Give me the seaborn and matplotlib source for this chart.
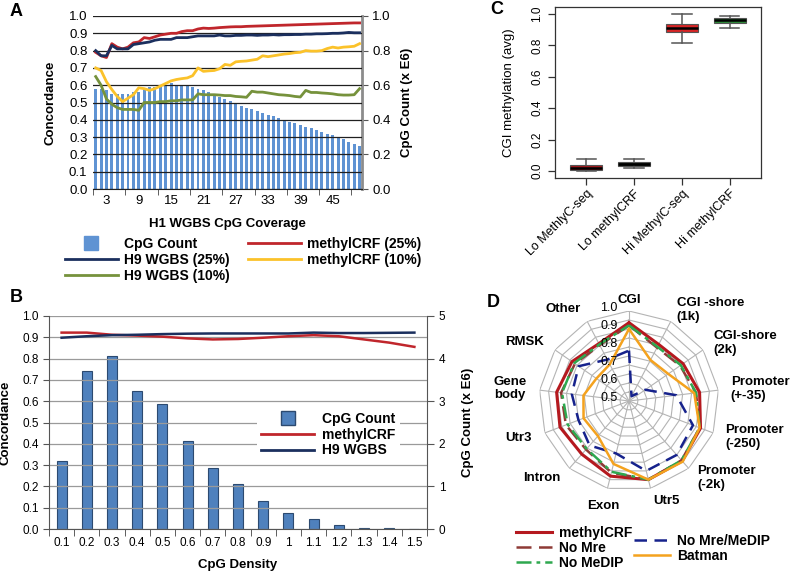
import numpy as np
import pandas as pd
import matplotlib
matplotlib.use("Agg")
import matplotlib.pyplot as plt
import seaborn as sns
from matplotlib.lines import Line2D

plt.rcParams['font.family'] = ['Liberation Sans', 'DejaVu Sans']

W, H = 792, 572


def rect(l, t, r, b):
    # pixel box -> figure fraction
    return [l / W, 1 - b / H, (r - l) / W, (b - t) / H]


# ---------------- panel A : concordance vs coverage
coverage = list(range(1, 51))
cpg_count_a = [0.58, 0.58, 0.57, 0.55, 0.55, 0.55, 0.55, 0.56, 0.56, 0.58,
               0.59, 0.59, 0.60, 0.60, 0.61, 0.60, 0.60, 0.60, 0.59, 0.58,
               0.57, 0.56, 0.55, 0.53, 0.52, 0.51, 0.50, 0.48, 0.47, 0.46,
               0.45, 0.44, 0.43, 0.42, 0.41, 0.40, 0.39, 0.38, 0.37, 0.36,
               0.35, 0.34, 0.33, 0.32, 0.31, 0.30, 0.29, 0.27, 0.26, 0.25]
mcrf_25 = [0.79, 0.77, 0.76, 0.84, 0.82, 0.81, 0.82, 0.845, 0.85, 0.875,
           0.87, 0.88, 0.89, 0.895, 0.90, 0.90, 0.91, 0.915, 0.915, 0.925,
           0.93, 0.928, 0.93, 0.933, 0.935, 0.937, 0.938, 0.938, 0.94, 0.941,
           0.942, 0.943, 0.944, 0.945, 0.946, 0.947, 0.948, 0.949, 0.95, 0.951,
           0.952, 0.953, 0.954, 0.955, 0.956, 0.957, 0.958, 0.959, 0.96, 0.96]
h9_25 = [0.80, 0.77, 0.77, 0.83, 0.81, 0.81, 0.81, 0.835, 0.84, 0.845,
         0.85, 0.86, 0.865, 0.865, 0.865, 0.875, 0.875, 0.875, 0.88, 0.885,
         0.885, 0.885, 0.885, 0.89, 0.885, 0.885, 0.888, 0.888, 0.89, 0.89,
         0.888, 0.89, 0.89, 0.892, 0.89, 0.892, 0.892, 0.893, 0.893, 0.895,
         0.895, 0.897, 0.897, 0.898, 0.90, 0.90, 0.902, 0.905, 0.903, 0.903]
mcrf_10 = [0.70, 0.685, 0.62, 0.575, 0.535, 0.505, 0.525, 0.545, 0.585, 0.58,
           0.57, 0.58, 0.595, 0.61, 0.625, 0.633, 0.638, 0.642, 0.655, 0.70,
           0.68, 0.683, 0.685, 0.695, 0.72, 0.715, 0.735, 0.738, 0.74, 0.745,
           0.75, 0.77, 0.765, 0.77, 0.775, 0.78, 0.783, 0.788, 0.79, 0.80,
           0.797, 0.797, 0.80, 0.812, 0.82, 0.815, 0.82, 0.822, 0.825, 0.84]
h9_10 = [0.65, 0.60, 0.52, 0.49, 0.47, 0.46, 0.46, 0.46, 0.455, 0.50,
         0.50, 0.50, 0.505, 0.505, 0.51, 0.51, 0.515, 0.515, 0.515, 0.55,
         0.545, 0.545, 0.545, 0.543, 0.54, 0.54, 0.535, 0.533, 0.53, 0.565,
         0.56, 0.56, 0.555, 0.55, 0.545, 0.543, 0.54, 0.535, 0.532, 0.57,
         0.558, 0.558, 0.555, 0.553, 0.55, 0.545, 0.543, 0.543, 0.545, 0.58]

# ---------------- panel B : concordance vs CpG density
density = ['0.1', '0.2', '0.3', '0.4', '0.5', '0.6', '0.7', '0.8',
           '0.9', '1', '1.1', '1.2', '1.3', '1.4', '1.5']
cpg_count_b = [1.60, 3.72, 4.05, 3.24, 2.93, 2.06, 1.43, 1.06,
               0.65, 0.37, 0.24, 0.09, 0.035, 0.02, 0.01]
mcrf_b = [0.922, 0.922, 0.912, 0.908, 0.903, 0.895, 0.89, 0.892,
          0.898, 0.905, 0.91, 0.905, 0.89, 0.875, 0.855]
h9_b = [0.898, 0.905, 0.91, 0.912, 0.915, 0.917, 0.918, 0.918,
        0.918, 0.918, 0.922, 0.92, 0.92, 0.921, 0.922]

# ---------------- panel C : CGI methylation boxes (summary stats)
box_labels = ['Lo MethlyC-seq', 'Lo methylCRF', 'Hi MethylC-seq', 'Hi methylCRF']
box_whislo = [0.0, 0.02, 0.815, 0.91]
box_q1 = [0.005, 0.03, 0.883, 0.945]
box_med = [0.02, 0.044, 0.911, 0.96]
box_q3 = [0.038, 0.057, 0.936, 0.975]
box_whishi = [0.078, 0.076, 1.0, 0.985]
box_colors = ['#a3171b', '#1d2a1d', '#d62526', '#2e8b3a']

# ---------------- panel D : radar of concordance by region
regions = ['CGI', 'CGI -shore\n(1k)', 'CGI-shore\n(2k)', 'Promoter\n(+-35)',
           'Promoter\n(-250)', 'Promoter\n(-2k)', 'Utr5', 'Exon', 'Intron',
           'Utr3', 'Gene\nbody', 'RMSK', 'Other']
d_mcrf = [0.935, 0.855, 0.865, 0.895, 0.925, 0.945, 0.95, 0.93, 0.895, 0.91, 0.905, 0.885, 0.86]
d_nomre = [0.92, 0.835, 0.845, 0.875, 0.92, 0.94, 0.95, 0.91, 0.86, 0.875, 0.88, 0.865, 0.85]
d_nomedip = [0.92, 0.84, 0.85, 0.875, 0.92, 0.94, 0.95, 0.905, 0.855, 0.865, 0.875, 0.87, 0.855]
d_nomremedip = [0.78, 0.53, 0.61, 0.765, 0.88, 0.90, 0.90, 0.80, 0.83, 0.80, 0.82, 0.84, 0.76]
d_batman = [0.90, 0.757, 0.765, 0.865, 0.92, 0.95, 0.95, 0.86, 0.76, 0.77, 0.755, 0.72, 0.73]

RED = '#c0262c'
NAVY = '#1b2f5e'
YEL = '#fbc22a'
GRN = '#76923c'
BAR_A = '#5f93d3'
BAR_B = '#4f81bd'

fig = plt.figure(figsize=(W / 100, H / 100), dpi=100)
tick_fs = 8.5
lab_fs = 9.5
leg_fs = 10

# =============== A
axA = fig.add_axes(rect(93, 16, 362, 189))
axA2 = axA.twinx()
dfa = pd.DataFrame({'coverage': coverage, 'count': cpg_count_a})
sns.barplot(data=dfa, x='coverage', y='count', native_scale=True, width=0.55,
            color=BAR_A, saturation=1, errorbar=None, ax=axA2)
for y, c in [(mcrf_25, RED), (h9_25, NAVY), (mcrf_10, YEL), (h9_10, GRN)]:
    sns.lineplot(x=coverage, y=y, color=c, lw=2, ax=axA)
axA.set_zorder(axA2.get_zorder() + 1)
axA.patch.set_visible(False)
axA.set_xlim(0.55, 50.45)
axA.set_ylim(0, 1)
axA2.set_ylim(0, 1)
axA.set_yticks(np.arange(0, 1.01, 0.1))
axA.set_yticklabels([f'{v:.1f}' for v in np.arange(0, 1.01, 0.1)], fontsize=9.5)
axA.yaxis.grid(True, color='#202020', lw=0.9)
axA.set_axisbelow(True)
axA.tick_params(axis='y', length=0, pad=4)
axA.set_xticks(list(range(3, 50, 6)))
axA.set_xticklabels([str(v) for v in range(3, 50, 6)], fontsize=9.5)
axA.set_xticks(np.arange(0.5, 51, 6), minor=True)
axA.tick_params(axis='x', which='major', length=0, pad=4)
axA.tick_params(axis='x', which='minor', length=4, color='#444')
axA2.set_yticks(np.arange(0, 1.01, 0.2))
axA2.set_yticklabels([f'{v:.1f}' for v in np.arange(0, 1.01, 0.2)], fontsize=9.5)
axA2.tick_params(axis='y', length=4, color='#555')
for s in ['top', 'left', 'right']:
    axA.spines[s].set_visible(False)
for s in ['top', 'left', 'bottom']:
    axA2.spines[s].set_visible(False)
axA2.spines['right'].set_color('#8c8c8c')
axA2.spines['right'].set_linewidth(2)
axA.spines['bottom'].set_color('#202020')
axA.set_xlabel('H1 WGBS CpG Coverage', fontsize=lab_fs, fontweight='bold')
axA.xaxis.set_label_coords(0.5, -0.17)
axA.set_ylabel('Concordance', fontsize=lab_fs, fontweight='bold')
axA.yaxis.set_label_coords(-0.135, 0.5)
axA2.set_ylabel('CpG Count (x E6)', fontsize=lab_fs, fontweight='bold')
axA2.yaxis.set_label_coords(1.145, 0.5)
axA2.set_xlabel('')

hA = [Line2D([], [], marker='s', ls='none', markersize=10, color=BAR_A),
      Line2D([], [], color=NAVY, lw=2), Line2D([], [], color=GRN, lw=2),
      Line2D([], [], color=RED, lw=2), Line2D([], [], color=YEL, lw=2)]
lA = ['CpG Count', 'H9 WGBS (25%)', 'H9 WGBS (10%)', 'methylCRF (25%)', 'methylCRF (10%)']
fig.legend(hA, lA, ncol=2, loc='upper left', bbox_to_anchor=(58 / W, 1 - 230 / H),
           frameon=False, prop={'weight': 'bold', 'size': leg_fs}, handlelength=3.8,
           handletextpad=0.45, columnspacing=1.3, labelspacing=0.15, borderpad=0)

# =============== B
axB = fig.add_axes(rect(49, 316, 427, 529))
axB2 = axB.twinx()
pos_b = list(range(len(density)))
dfb = pd.DataFrame({'pos': pos_b, 'count': cpg_count_b})
sns.barplot(data=dfb, x='pos', y='count', native_scale=True, width=0.4,
            color=BAR_B, saturation=1, edgecolor='#2c4a70', linewidth=0.8,
            errorbar=None, ax=axB2)
sns.lineplot(x=pos_b, y=mcrf_b, color=RED, lw=1.8, ax=axB, label='methylCRF')
sns.lineplot(x=pos_b, y=h9_b, color=NAVY, lw=1.8, ax=axB, label='H9 WGBS')
axB.set_zorder(axB2.get_zorder() + 1)
axB.patch.set_visible(False)
axB.set_xlim(-0.5, len(density) - 0.5)
axB.set_ylim(0, 1)
axB2.set_ylim(0, 5)
axB.set_yticks(np.arange(0, 1.01, 0.1))
axB.set_yticklabels([f'{v:.1f}' for v in np.arange(0, 1.01, 0.1)], fontsize=tick_fs)
axB.yaxis.grid(True, color='#9a9a9a', lw=0.9)
axB.set_axisbelow(True)
axB.tick_params(axis='y', length=4, color='#555')
axB.set_xticks(pos_b)
axB.set_xticklabels(density, fontsize=tick_fs)
axB.set_xticks(np.arange(-0.5, len(density), 1), minor=True)
axB.tick_params(axis='x', which='major', length=0, pad=6)
axB.tick_params(axis='x', which='minor', length=5, color='#444')
axB2.set_yticks(range(0, 6))
axB2.set_yticklabels([str(v) for v in range(0, 6)], fontsize=tick_fs)
axB2.tick_params(axis='y', length=5, color='#555')
for s in ['top', 'right']:
    axB.spines[s].set_visible(False)
for s in ['top', 'left', 'bottom']:
    axB2.spines[s].set_visible(False)
for a in (axB, axB2):
    for s in a.spines.values():
        s.set_color('#555')
axB.set_xlabel('CpG Density', fontsize=lab_fs, fontweight='bold')
axB.xaxis.set_label_coords(0.5, -0.14)
axB.set_ylabel('Concordance', fontsize=lab_fs, fontweight='bold')
axB.yaxis.set_label_coords(-0.098, 0.5)
axB2.set_ylabel('CpG Count (x E6)', fontsize=lab_fs, fontweight='bold')
axB2.yaxis.set_label_coords(1.093, 0.5)
axB2.set_xlabel('')
hB = [Line2D([], [], marker='s', ls='none', markersize=10, color=BAR_B, markeredgecolor='#2c4a70'),
      Line2D([], [], color=RED, lw=2), Line2D([], [], color=NAVY, lw=2)]
axB.legend(hB, ['CpG Count', 'methylCRF', 'H9 WGBS'], loc='upper left',
           bbox_to_anchor=((257 - 49) / 378, (529 - 408) / 213), frameon=True,
           facecolor='white', edgecolor='none', framealpha=1, fancybox=False,
           prop={'weight': 'bold', 'size': leg_fs}, handlelength=3.8,
           handletextpad=0.6, labelspacing=0.12, borderpad=0.3, borderaxespad=0)

# =============== C
axC = fig.add_axes(rect(555, 7, 761, 178))
stats = []
for i in range(len(box_labels)):
    stats.append({'whislo': box_whislo[i], 'q1': box_q1[i], 'med': box_med[i],
                  'q3': box_q3[i], 'whishi': box_whishi[i], 'fliers': []})
bp = axC.bxp(stats, positions=[1, 2, 3, 4], widths=0.67, patch_artist=True,
             showfliers=False,
             boxprops={'edgecolor': '#555', 'linewidth': 0.8},
             medianprops={'color': 'black', 'linewidth': 1.8, 'solid_capstyle': 'butt'},
             whiskerprops={'color': '#555', 'linewidth': 1.1, 'linestyle': '-'},
             capprops={'color': '#555', 'linewidth': 1.1})
for patch, c in zip(bp['boxes'], box_colors):
    patch.set_facecolor(c)
for cap in bp['caps']:
    xd = cap.get_xdata()
    m = (xd[0] + xd[1]) / 2
    cap.set_xdata([m - 0.2, m + 0.2])
axC.set_xlim(0.35, 4.65)
axC.set_ylim(-0.045, 1.045)
axC.set_yticks(np.arange(0, 1.01, 0.2))
axC.set_yticklabels([f'{v:.1f}' for v in np.arange(0, 1.01, 0.2)], fontsize=tick_fs,
                    rotation=90, va='center')
axC.set_xticks([1, 2, 3, 4])
axC.set_xticklabels(box_labels, fontsize=9, rotation=45, ha='right', rotation_mode='anchor')
axC.tick_params(axis='both', length=5, width=0.9, color='#333')
axC.tick_params(axis='x', pad=2)
for s in axC.spines.values():
    s.set_color('#333')
    s.set_linewidth(0.9)
axC.set_ylabel('CGI methylation (avg)', fontsize=9.5)
axC.yaxis.set_label_coords(-0.195, 0.5)

# =============== D
axD = fig.add_axes(rect(539, 311, 719, 491), projection='polar')
axD.set_theta_offset(np.pi / 2)
axD.set_theta_direction(-1)
axD.set_ylim(0.5, 1.0)
n = len(regions)
ang = np.linspace(0, 2 * np.pi, n, endpoint=False)
ang_c = np.append(ang, 2 * np.pi)
for r in np.arange(0.55, 1.001, 0.05):
    axD.plot(ang_c, [r] * (n + 1), color='#b4b4b4', lw=0.8, zorder=1)
for a in ang:
    axD.plot([a, a], [0.5, 1.0], color='#b4b4b4', lw=0.8, zorder=1)
axD.grid(False)
axD.spines['polar'].set_visible(False)
axD.set_xticks([])
axD.set_yticks([])
axD.patch.set_visible(False)

d_series = [('methylCRF', d_mcrf, '#b5191f', '-', 2.2),
            ('No Mre', d_nomre, '#8e3b36', (0, (6, 3)), 1.8),
            ('No MeDIP', d_nomedip, '#2ea84f', (0, (6, 2, 1.5, 2)), 1.8),
            ('No Mre/MeDIP', d_nomremedip, '#16228c', (0, (5, 3)), 1.8),
            ('Batman', d_batman, '#f4a21e', '-', 1.8)]
for name, vals, c, ls, lw in d_series:
    sns.lineplot(x=ang_c, y=list(vals) + [vals[0]], sort=False, color=c,
                 linestyle=ls, lw=lw, ax=axD, zorder=3)
axD.set_xlabel('')
axD.set_ylabel('')

for a, lab in zip(ang, regions):
    deg = np.degrees(a)
    if deg < 5:
        ha, r = 'center', 1.06
    elif deg < 175:
        ha, r = 'left', 1.07
    elif deg < 200:
        ha, r = 'center', 1.1
    else:
        ha, r = 'right', 1.075
    axD.text(a, r, lab, ha=ha, va='center', fontsize=9.5, fontweight='bold',
             multialignment='center' if lab.startswith('Gene') else 'left')
for r in np.arange(0.5, 1.01, 0.1):
    axD.annotate(f'{r:.1f}', (0, r), xytext=(-8, 2), textcoords='offset points',
                 ha='right', va='center', fontsize=9)

hD1 = [Line2D([], [], color=c, ls=ls, lw=lw) for _, _, c, ls, lw in d_series[:3]]
hD2 = [Line2D([], [], color=c, ls=ls, lw=lw) for _, _, c, ls, lw in d_series[3:]]
fig.legend(hD1, [s[0] for s in d_series[:3]], loc='upper left',
           bbox_to_anchor=(509 / W, 1 - 519 / H), frameon=False,
           prop={'weight': 'bold', 'size': leg_fs}, handlelength=2.6,
           handletextpad=0.5, labelspacing=0.08, borderpad=0)
fig.legend(hD2, [s[0] for s in d_series[3:]], loc='upper left',
           bbox_to_anchor=(627 / W, 1 - 527 / H), frameon=False,
           prop={'weight': 'bold', 'size': leg_fs}, handlelength=2.6,
           handletextpad=0.5, labelspacing=0.08, borderpad=0)

# panel letters
for x, y, t in [(10, 12, 'A'), (10, 297, 'B'), (490, 10, 'C'), (487, 302, 'D')]:
    fig.text(x / W, 1 - y / H, t, fontsize=13, fontweight='bold', va='center')

fig.savefig('out.png', dpi=100)
